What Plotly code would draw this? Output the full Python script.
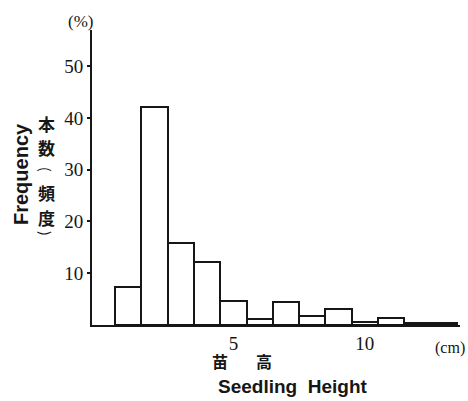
import plotly.graph_objects as go

# Seedling height classes (cm, class centres) and share of seedlings (%)
heights_cm = [1, 2, 3, 4, 5, 6, 7, 8, 9, 10, 11, 12, 13]
frequency_pct = [7.3, 42.2, 15.8, 12.2, 4.6, 1.2, 4.5, 1.8, 3.1, 0.5, 1.4, 0.4, 0.3]

y_ticks = [10, 20, 30, 40, 50]
x_ticks = [5, 10]

W, H = 468, 401
L, R, T, B = 92, 8, 30, 76
INK = "#161616"


def px(x, y):
    """Convert pixel position on the page to paper coordinates."""
    return (x - L) / (W - L - R), (H - B - y) / (H - T - B)


fig = go.Figure(
    go.Bar(
        x=heights_cm,
        y=frequency_pct,
        width=1,
        marker=dict(color="white", line=dict(color=INK, width=2)),
    )
)

fig.update_layout(
    width=W,
    height=H,
    margin=dict(l=L, r=R, t=T, b=B),
    paper_bgcolor="white",
    plot_bgcolor="white",
    showlegend=False,
    bargap=0,
)

fig.update_xaxes(
    range=[-0.38, 13.62],
    showline=True,
    linecolor=INK,
    linewidth=2,
    showgrid=False,
    zeroline=False,
    tickvals=x_ticks,
    ticktext=[str(v) for v in x_ticks],
    ticks="",
    tickfont=dict(family="Liberation Serif", size=19, color=INK),
)

fig.update_yaxes(
    range=[0, 57],
    showline=True,
    linecolor=INK,
    linewidth=2,
    showgrid=False,
    zeroline=False,
    tickvals=y_ticks,
    ticktext=[str(v) for v in y_ticks],
    ticks="outside",
    ticklen=3,
    tickwidth=2,
    tickcolor=INK,
    tickfont=dict(family="Liberation Serif", size=19, color=INK),
)


def note(text, x, y, size, family, angle=0):
    ax, ay = px(x, y)
    fig.add_annotation(
        text=text, x=ax, y=ay, xref="paper", yref="paper",
        showarrow=False, textangle=angle, xanchor="center", yanchor="middle",
        font=dict(family=family, size=size, color=INK),
    )


# unit labels
note("(%)", 80, 21, 17, "Liberation Serif")
note("(cm)", 450, 348, 16, "Liberation Serif")

# x-axis title
note("<b>苗</b>", 220, 361, 16, "Noto Sans CJK JP")
note("<b>高</b>", 264, 361, 16, "Noto Sans CJK JP")
note("<b>Seedling  Height</b>", 293, 386, 19, "Liberation Sans")

# y-axis title
note("<b>Frequency</b>", 21, 174, 20, "Liberation Sans", angle=-90)
for ch, yy in [("本", 123), ("数", 147), ("頻", 192), ("度", 217)]:
    note(f"<b>{ch}</b>", 46, yy, 17, "Noto Sans CJK JP")
# parentheses of the vertical label, turned on their side
note("(", 46, 169, 14, "Noto Sans CJK JP", angle=90)
note(")", 46, 233, 14, "Noto Sans CJK JP", angle=90)

fig.write_html("out.html")
